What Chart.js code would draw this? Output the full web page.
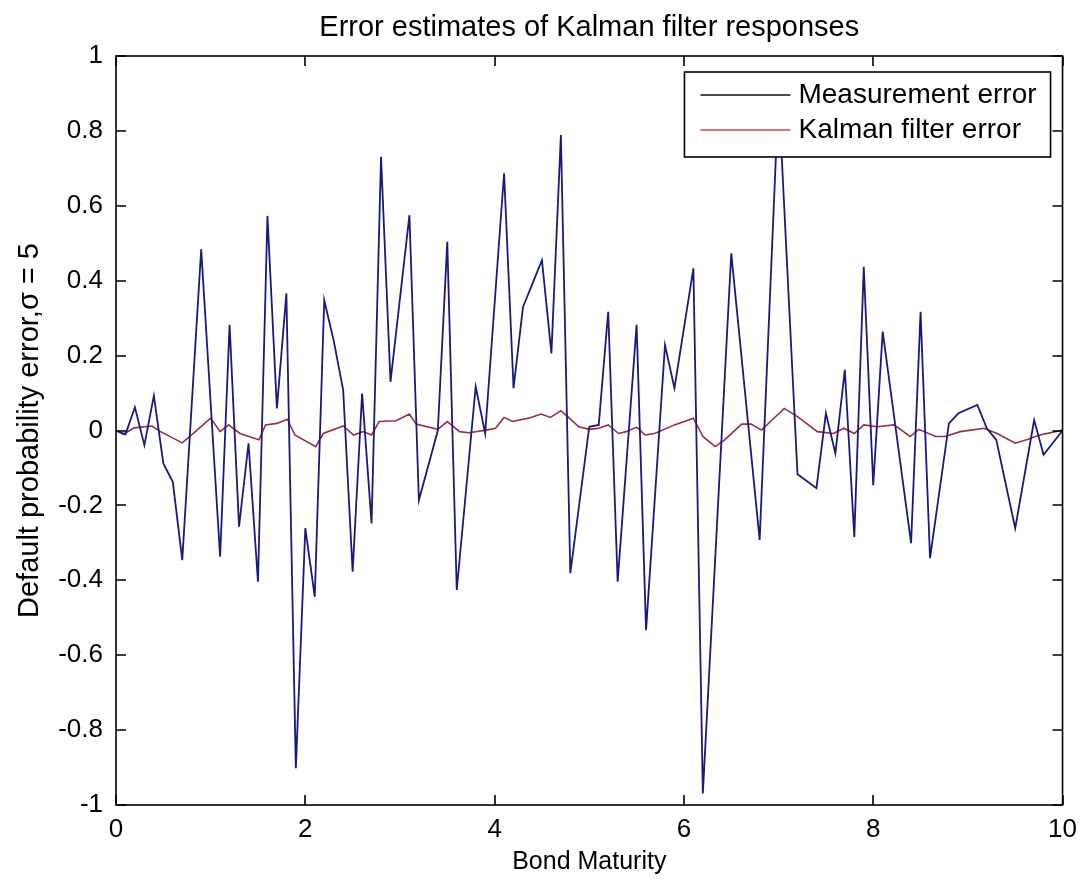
<!DOCTYPE html>
<html>
<head>
<meta charset="utf-8">
<title>Error estimates of Kalman filter responses</title>
<script src="https://cdn.jsdelivr.net/npm/chart.js"></script>
<style>
  html, body { margin: 0; padding: 0; background: #fff; }
  canvas { display: block; }
</style>
</head>
<body>
<canvas id="chart" width="1086" height="887"></canvas>
<script>
// visible vertices of the measurement error trace (bond maturity, error)
const maturity = [0, 0.1, 0.2, 0.3, 0.4, 0.5, 0.6, 0.7, 0.9, 1.1, 1.2, 1.3, 1.4, 1.5, 1.6, 1.7, 1.8, 1.9, 2.0, 2.1,
  2.2, 2.3, 2.4, 2.5, 2.6, 2.7, 2.8, 2.9, 3.1, 3.2, 3.4, 3.5, 3.6, 3.8, 3.9, 4.1, 4.2, 4.3, 4.5, 4.6,
  4.7, 4.8, 5.0, 5.1, 5.2, 5.3, 5.5, 5.6, 5.8, 5.9, 6.1, 6.2, 6.5, 6.8, 7.0, 7.2, 7.4, 7.5, 7.6, 7.7,
  7.8, 7.9, 8.0, 8.1, 8.4, 8.5, 8.6, 8.8, 8.9, 9.1, 9.2, 9.3, 9.5, 9.7, 9.8, 10]
const measurementError = [0, -0.01, 0.062, -0.039, 0.093, -0.088, -0.137, -0.346, 0.484, -0.337,
  0.282, -0.257, -0.034, -0.404, 0.573, 0.059, 0.366, -0.902, -0.261, -0.444,
  0.348, 0.24, 0.108, -0.377, 0.099, -0.248, 0.731, 0.13, 0.575, -0.186,
  0.0, 0.504, -0.426, 0.117, -0.008, 0.687, 0.113, 0.33, 0.455, 0.206,
  0.789, -0.381, 0.01, 0.015, 0.317, -0.404, 0.282, -0.533, 0.228, 0.113,
  0.433, -0.969, 0.473, -0.292, 0.9, -0.117, -0.154, 0.046, -0.061, 0.162,
  -0.284, 0.437, -0.146, 0.264, -0.301, 0.317, -0.341, 0.019, 0.046, 0.068,
  0.006, -0.025, -0.261, 0.028, -0.065, 0.0]

// kalman filter error trace
const kalmanMaturity = [0, 0.08, 0.19, 0.38, 0.47, 0.70, 0.82, 1.00, 1.10, 1.19, 1.31, 1.51, 1.58, 1.70, 1.81, 1.89,
  2.11, 2.19, 2.40, 2.51, 2.61, 2.70, 2.78, 2.96, 3.10, 3.17, 3.40, 3.50, 3.63, 3.73, 3.91, 4.01,
  4.10, 4.19, 4.36, 4.49, 4.59, 4.70, 4.79, 4.89, 5.00, 5.10, 5.20, 5.31, 5.39, 5.50, 5.59, 5.69,
  5.90, 6.10, 6.20, 6.33, 6.43, 6.61, 6.71, 6.82, 7.06, 7.20, 7.41, 7.58, 7.69, 7.80, 7.90, 8.04,
  8.22, 8.39, 8.48, 8.66, 8.76, 8.92, 9.17, 9.31, 9.50, 9.62, 9.76, 10]
const kalmanError = [0, -0.01, 0.007, 0.012, -0.003, -0.033, -0.007, 0.033, -0.003, 0.015,
  -0.008, -0.025, 0.015, 0.019, 0.03, -0.012, -0.043, -0.008, 0.012, -0.012,
  -0.003, -0.012, 0.024, 0.026, 0.044, 0.017, 0.003, 0.024, -0.003, -0.006,
  0.001, 0.006, 0.035, 0.024, 0.033, 0.044, 0.035, 0.053, 0.033, 0.01,
  0.003, 0.006, 0.015, -0.008, -0.003, 0.009, -0.012, -0.008, 0.015, 0.033,
  -0.016, -0.043, -0.025, 0.017, 0.017, 0.001, 0.059, 0.037, -0.003, -0.008,
  0.006, -0.008, 0.015, 0.01, 0.015, -0.016, 0.003, -0.016, -0.016, -0.003,
  0.006, -0.008, -0.034, -0.025, -0.012, 0.001]

const seriesLabels = ['Measurement error', 'Kalman filter error']
const chartTitle = 'Error estimates of Kalman filter responses'
const xRange = [0, 10]
const yRange = [-1, 1]

const FONT = '"Liberation Sans", Arial, sans-serif'

function pairs(xs, ys){
  return xs.map((x, i) => ({x: x, y: ys[i]}))
}

// matlab style frame: title over the axes, box, inward ticks on all sides, legend inside
const matlabFrame = {
  id: 'matlabFrame',
  afterDatasetsDraw(chart){
    const ctx = chart.ctx
    const a = chart.chartArea
    const sx = chart.scales.x
    const sy = chart.scales.y
    const tl = 10
    ctx.save()
    ctx.strokeStyle = '#000'
    ctx.lineWidth = 1.6
    ctx.strokeRect(a.left, a.top, a.right - a.left, a.bottom - a.top)
    ctx.beginPath()
    sx.ticks.forEach(t => {
      const px = Math.round(sx.getPixelForValue(t.value))
      ctx.moveTo(px, a.bottom); ctx.lineTo(px, a.bottom - tl)
      ctx.moveTo(px, a.top); ctx.lineTo(px, a.top + tl)
    })
    sy.ticks.forEach(t => {
      const py = Math.round(sy.getPixelForValue(t.value))
      ctx.moveTo(a.left, py); ctx.lineTo(a.left + tl, py)
      ctx.moveTo(a.right, py); ctx.lineTo(a.right - tl, py)
    })
    ctx.stroke()

    // title centred over the plot box
    ctx.fillStyle = '#000'
    ctx.font = '29px ' + FONT
    ctx.textAlign = 'center'
    ctx.textBaseline = 'middle'
    ctx.fillText(chartTitle, (a.left + a.right) / 2, 28)

    // legend box
    ctx.font = '28px ' + FONT
    const sets = chart.data.datasets
    const tw = Math.max(...sets.map(d => ctx.measureText(d.label).width))
    const w = 16 + 90 + 8 + tw + 14
    const h = 85
    const x0 = a.right - 12 - w
    const y0 = a.top + 16
    ctx.fillStyle = '#fff'
    ctx.fillRect(x0, y0, w, h)
    ctx.lineWidth = 1.6
    ctx.strokeRect(x0, y0, w, h)
    ctx.textBaseline = 'middle'
    ctx.textAlign = 'left'
    sets.forEach((d, i) => {
      const y = y0 + 23 + i * 35
      ctx.strokeStyle = d.legendColor || d.borderColor
      ctx.lineWidth = 1.6
      ctx.beginPath()
      ctx.moveTo(x0 + 16, y); ctx.lineTo(x0 + 106, y)
      ctx.stroke()
      ctx.fillStyle = '#000'
      ctx.fillText(d.label, x0 + 114, y)
    })
    ctx.restore()
  }
}

new Chart(document.getElementById('chart'), {
  type: 'line',
  data: {
    datasets: [
      {
        label: seriesLabels[0],
        data: pairs(maturity, measurementError),
        borderColor: '#181880',
        legendColor: '#111',
        borderWidth: 1.8,
        pointRadius: 0,
        tension: 0,
        fill: false
      },
      {
        label: seriesLabels[1],
        data: pairs(kalmanMaturity, kalmanError),
        borderColor: '#96303a',
        legendColor: '#d8435a',
        borderWidth: 1.6,
        pointRadius: 0,
        tension: 0,
        fill: false
      }
    ]
  },
  options: {
    responsive: false,
    animation: false,
    devicePixelRatio: 1,
    layout: {padding: {left: 0, right: 22, top: 56, bottom: 0}},
    plugins: {
      legend: {display: false},
      tooltip: {enabled: false},
      title: {display: false}
    },
    scales: {
      x: {
        type: 'linear',
        min: xRange[0],
        max: xRange[1],
        grid: {display: false, drawTicks: false},
        border: {display: false},
        ticks: {stepSize: 2, color: '#000', padding: 9, font: {family: FONT, size: 26}},
        title: {display: true, text: 'Bond Maturity', color: '#000',
          font: {family: FONT, size: 25}, padding: {top: 0, bottom: 10}},
        afterFit(scale){ scale.height = 82 }
      },
      y: {
        type: 'linear',
        min: yRange[0],
        max: yRange[1],
        grid: {display: false, drawTicks: false},
        border: {display: false},
        ticks: {
          stepSize: 0.2, color: '#000', padding: 13, font: {family: FONT, size: 26},
          callback: v => String(Number(v.toFixed(1)))
        },
        title: {display: true, text: 'Default probability error,σ = 5', color: '#000',
          font: {family: FONT, size: 29}, padding: {top: 13, bottom: 0}},
        afterFit(scale){ scale.width = 116 }
      }
    }
  },
  plugins: [matlabFrame]
})
</script>
</body>
</html>
